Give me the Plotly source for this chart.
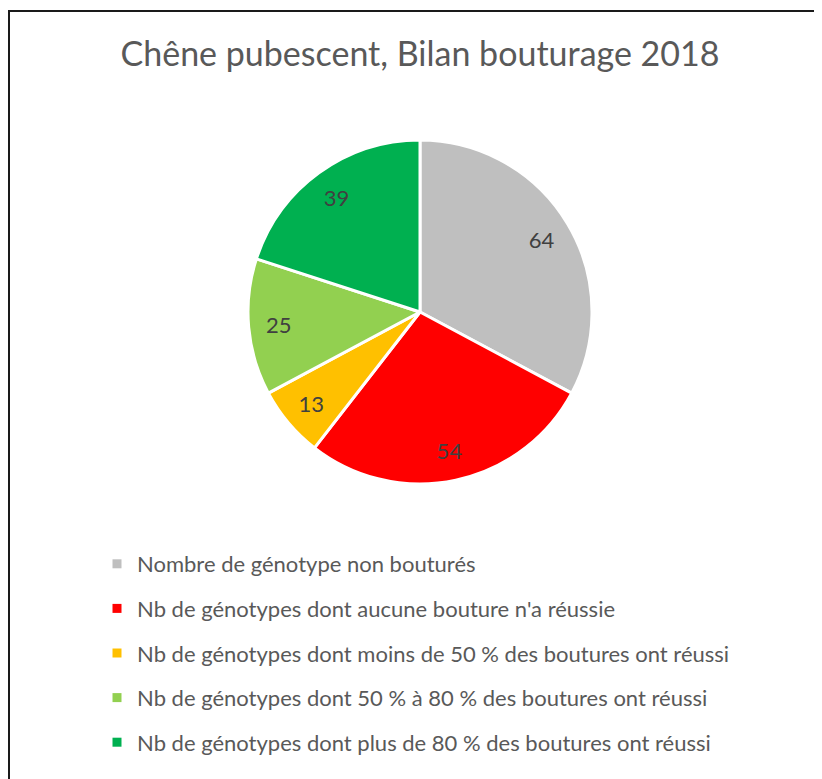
import plotly.graph_objects as go

W, H = 822, 779

categories = [
    "Nombre de génotype non bouturés",
    "Nb de génotypes dont aucune bouture n'a réussie",
    "Nb de génotypes dont moins de 50 % des boutures ont réussi",
    "Nb de génotypes dont 50 % à 80 % des boutures ont réussi",
    "Nb de génotypes dont plus de 80 % des boutures ont réussi",
]
values = [64, 54, 13, 25, 39]
colors = ["#BFBFBF", "#FF0000", "#FFC000", "#92D050", "#00B050"]
title_text = "Chêne pubescent, Bilan bouturage 2018"

FONT = "Lato"

fig = go.Figure()

# pie geometry (pixels, figure coords)
cx, cy, r = 412, 304, 172
dom = dict(x=[(cx - r) / W, (cx + r) / W], y=[1 - (cy + r) / H, 1 - (cy - r) / H])

fig.add_trace(go.Pie(
    labels=categories,
    values=values,
    sort=False,
    direction="clockwise",
    rotation=0,
    marker=dict(colors=colors, line=dict(color="white", width=3)),
    textinfo="none",
    domain=dom,
    showlegend=False,
    hoverinfo="label+value",
))

# transparent ring overlay to place the value labels toward the outer edge
fig.add_trace(go.Pie(
    labels=categories,
    values=values,
    sort=False,
    direction="clockwise",
    rotation=0,
    hole=0.65,
    marker=dict(colors=["rgba(0,0,0,0)"] * len(values), line=dict(width=0)),
    textinfo="value",
    textposition="inside",
    insidetextorientation="horizontal",
    textfont=dict(family=FONT, size=22, color="#404040"),
    domain=dom,
    showlegend=False,
    hoverinfo="skip",
))

for i, (cat, col) in enumerate(zip(categories, colors)):
    fig.add_trace(go.Scatter(
        x=[None], y=[None], mode="markers", name=cat,
        marker=dict(symbol="square", size=9, color=col),
        legendgroup=f"g{i}", showlegend=True,
    ))

fig.update_layout(
    width=W, height=H,
    margin=dict(l=0, r=0, t=0, b=0),
    paper_bgcolor="white", plot_bgcolor="white",
    title=dict(text=title_text, x=412 / W, xanchor="center", y=1 - 46 / H, yanchor="middle",
               font=dict(family=FONT, size=34, color="#595959")),
    xaxis=dict(visible=False), yaxis=dict(visible=False),
    legend=dict(
        x=89 / W, xanchor="left", y=1 - 535 / H, yanchor="top",
        orientation="v", tracegroupgap=13,
        font=dict(family=FONT, size=22, color="#595959"),
        bgcolor="rgba(0,0,0,0)",
    ),
    shapes=[dict(
        type="path", xref="paper", yref="paper",
        path=f"M {1 / W} 0 L {1 / W} {1 - 3 / H} L 1 {1 - 3 / H}",
        line=dict(color="#1a1a1a", width=2),
    )],
)

fig.write_html("out.html")
